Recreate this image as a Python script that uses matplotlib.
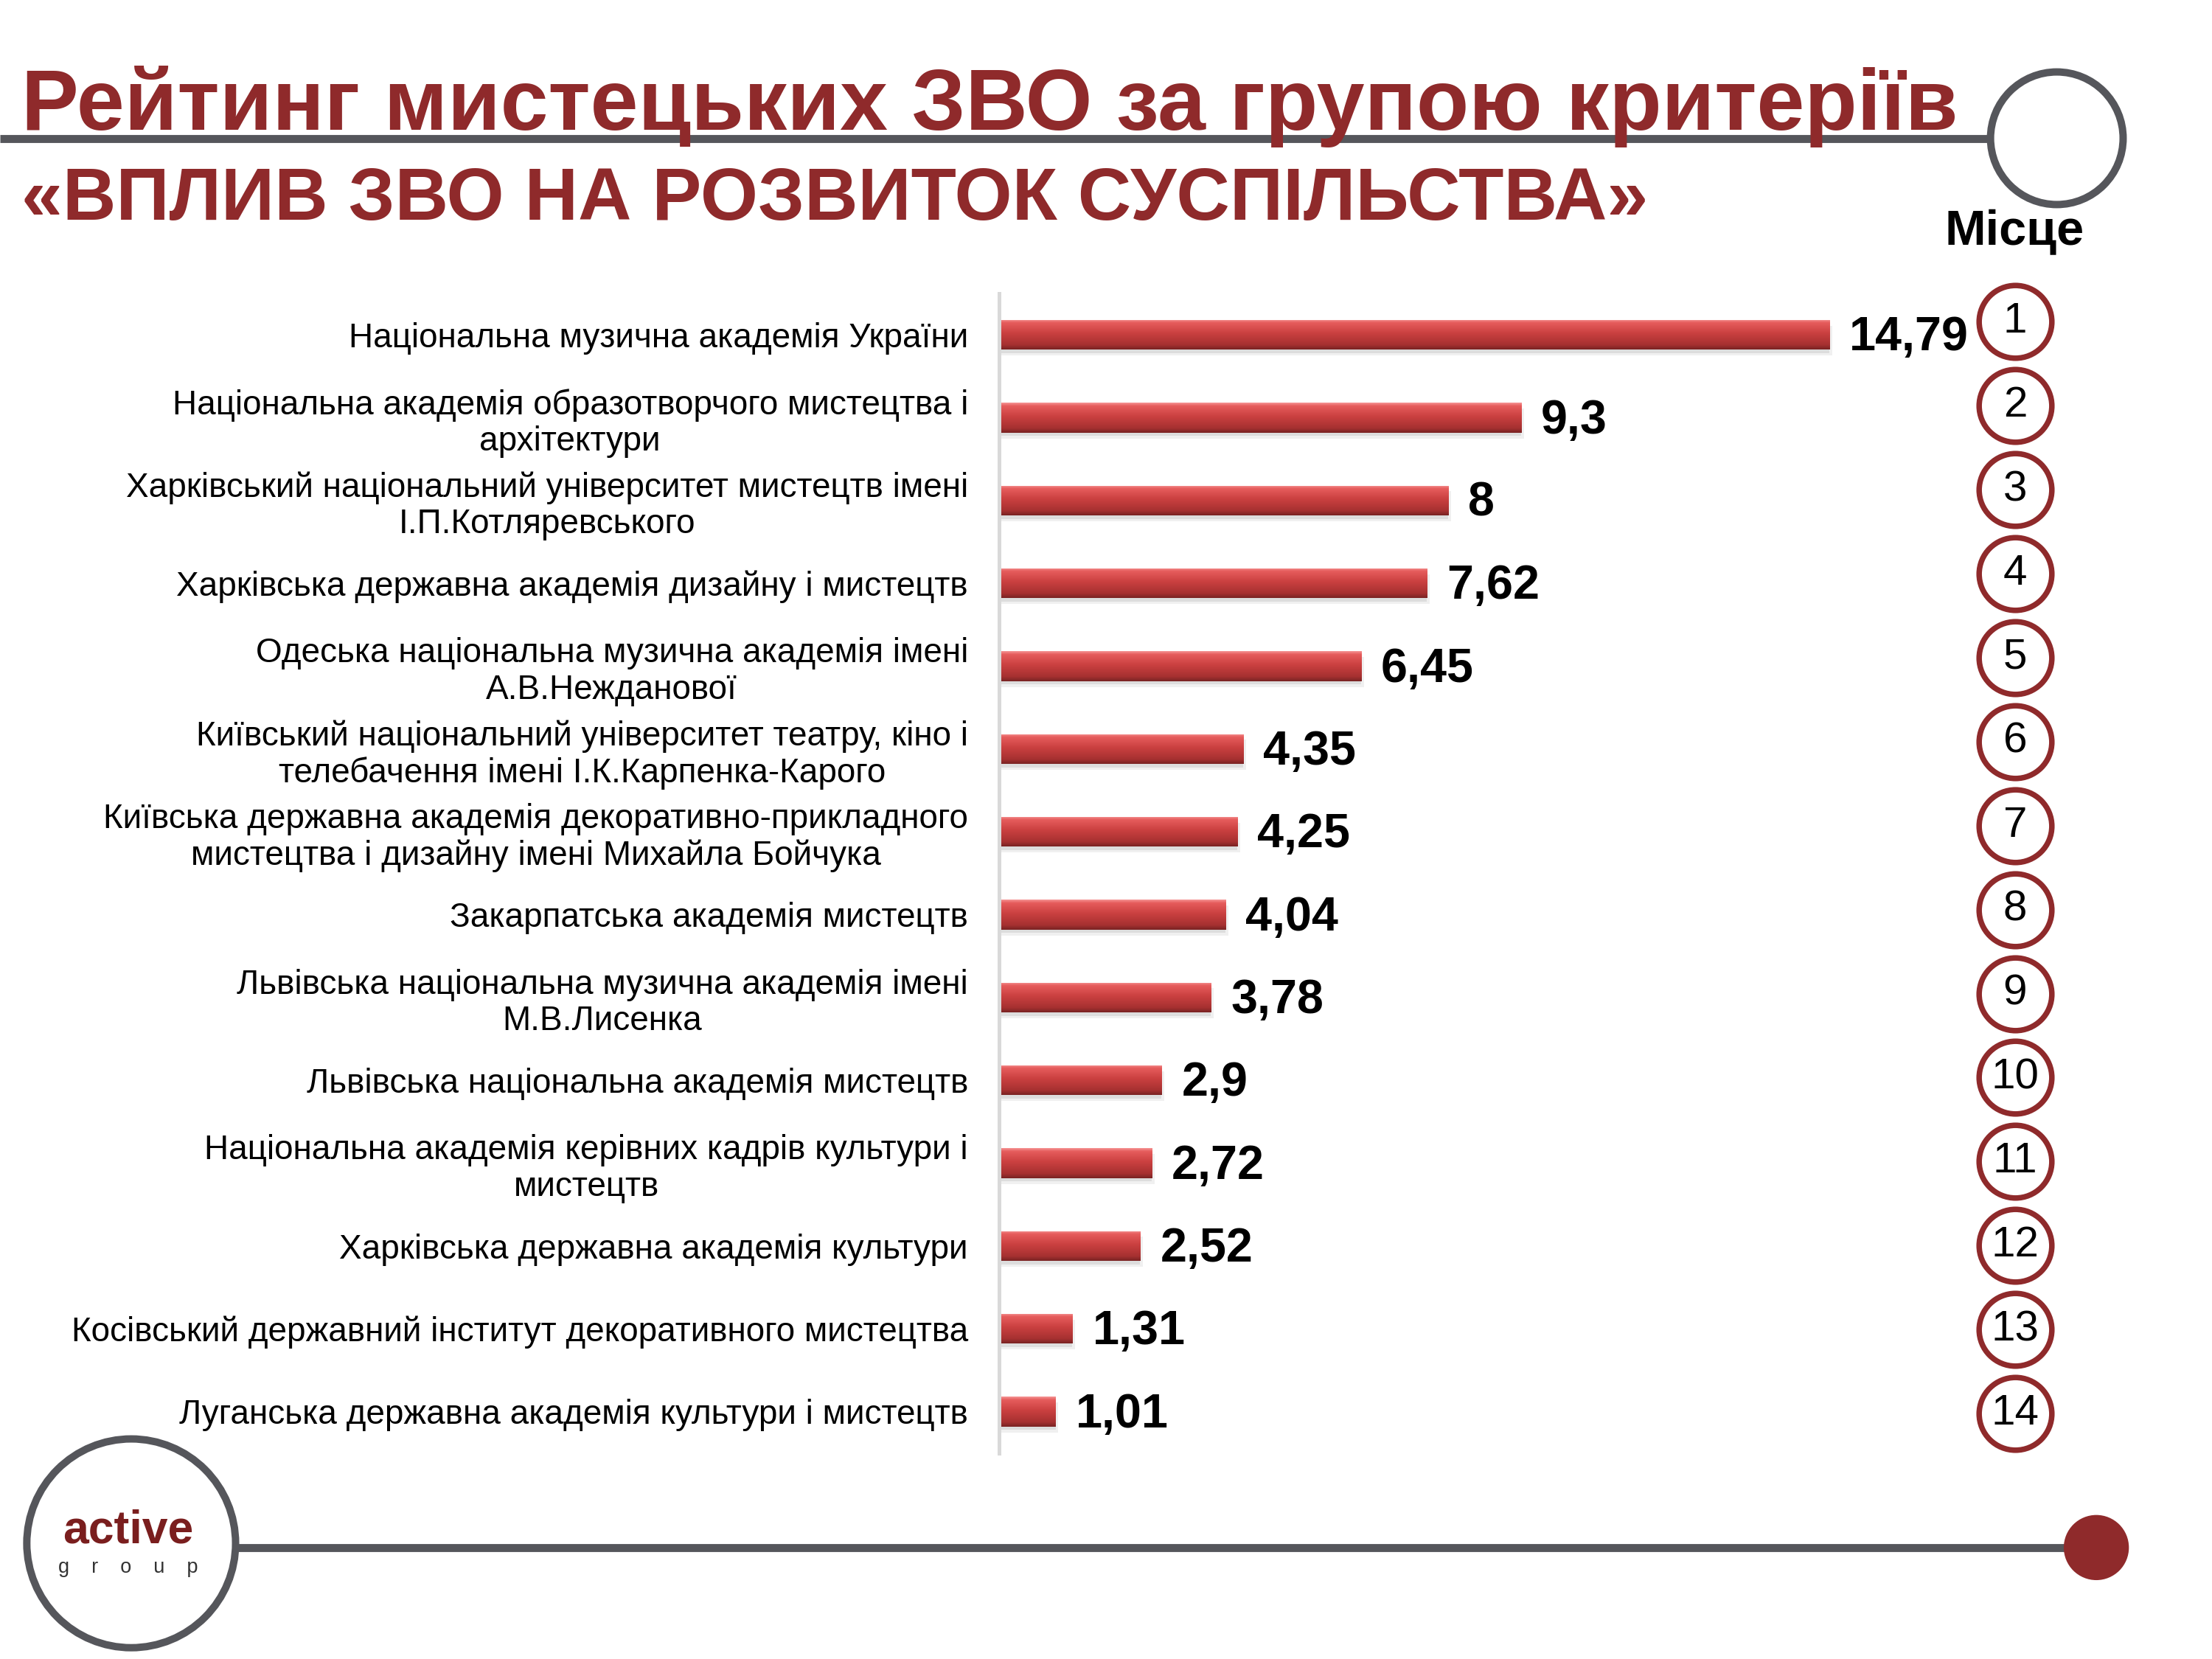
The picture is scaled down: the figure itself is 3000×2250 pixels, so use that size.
import matplotlib.pyplot as plt
import matplotlib.patches as mpatches
from matplotlib.colors import LinearSegmentedColormap
import numpy as np

plt.rcParams['font.family'] = ['Liberation Sans', 'DejaVu Sans']

# Data
universities = [
    "Національна музична академія України",
    "Національна академія образотворчого мистецтва і\nархітектури",
    "Харківський національний університет мистецтв імені\nІ.П.Котляревського",
    "Харківська державна академія дизайну і мистецтв",
    "Одеська національна музична академія імені\nА.В.Нежданової",
    "Київський національний університет театру, кіно і\nтелебачення імені І.К.Карпенка-Карого",
    "Київська державна академія декоративно-прикладного\nмистецтва і дизайну імені Михайла Бойчука",
    "Закарпатська академія мистецтв",
    "Львівська національна музична академія імені\nМ.В.Лисенка",
    "Львівська національна академія мистецтв",
    "Національна академія керівних кадрів культури і\nмистецтв",
    "Харківська державна академія культури",
    "Косівський державний інститут декоративного мистецтва",
    "Луганська державна академія культури і мистецтв",
]
scores = [14.79, 9.3, 8, 7.62, 6.45, 4.35, 4.25, 4.04, 3.78, 2.9, 2.72, 2.52, 1.31, 1.01]
ranks = list(range(1, 15))

title1 = "Рейтинг мистецьких ЗВО за групою критеріїв"
title2 = "«ВПЛИВ ЗВО НА РОЗВИТОК СУСПІЛЬСТВА»"

dark_red = "#8F2A2B"
gray = "#55565B"

fig = plt.figure(figsize=(10, 7.5), dpi=300)

# overlay in "reference pixel" units for the slide decorations
W, H = 1568, 1176
deco = fig.add_axes([0, 0, 1, 1], zorder=0)
deco.set_xlim(0, W)
deco.set_ylim(H, 0)
deco.axis("off")

# header line + hollow circle
deco.plot([0, 1411], [98, 98], color=gray, lw=2.6, solid_capstyle="butt")
deco.add_patch(mpatches.Circle((1458, 98), 47, fill=False, ec=gray, lw=2.4))
# footer line, logo circle and red dot
deco.plot([166, 1470], [1097, 1097], color=gray, lw=2.6, solid_capstyle="butt")
deco.add_patch(mpatches.Circle((93, 1094), 74, facecolor="white", ec=gray, lw=2.4, zorder=3))
deco.add_patch(mpatches.Circle((1486, 1097), 22, color=dark_red, zorder=3))
deco.text(91, 1085, "active", color="#7A1E1E", fontsize=15, fontweight="bold",
          ha="center", va="center", zorder=4)
deco.text(91, 1111, "g    r    o    u    p", color="#333333", fontsize=6.5,
          ha="center", va="center", zorder=4)

# titles
fig.text(15 / W, 1 - 92 / H, title1, color=dark_red, fontsize=28, fontweight="bold",
         ha="left", va="baseline")
fig.text(15 / W, 1 - 156 / H, title2, color=dark_red, fontsize=24.1, fontweight="bold",
         ha="left", va="baseline")
fig.text(1428 / W, 1 - 165 / H, "Місце", color="black", fontsize=16, fontweight="bold",
         ha="center", va="center")

# main bar axes
ax_left, ax_right = 708 / W, (708 + 20 * 39.8) / W
ax_bot, ax_top = 1 - 1030 / H, 1 - 208 / H
ax = fig.add_axes([ax_left, ax_bot, ax_right - ax_left, ax_top - ax_bot], zorder=2)
ax.patch.set_alpha(0)

y = np.arange(len(scores))
h = 0.36
# soft shadow
ax.barh(y + 0.07, scores, height=h, color="black", alpha=0.06, left=0.05)
ax.barh(y + 0.04, scores, height=h, color="black", alpha=0.08)
# body, filled with a vertical tube-like gradient
bars = ax.barh(y, scores, height=h, color="#B93536", edgecolor="none")
tube = LinearSegmentedColormap.from_list(
    "tube", [(0, "#F59393"), (0.1, "#E65D5D"), (0.45, "#CB4040"),
             (0.85, "#A63131"), (1, "#7A2323")])
grad = np.linspace(0, 1, 64).reshape(-1, 1)
for bar in bars:
    x0, yb, bw, bh = bar.get_x(), bar.get_y(), bar.get_width(), bar.get_height()
    im = ax.imshow(grad, cmap=tube, aspect="auto", origin="upper",
                   extent=[x0, x0 + bw, yb + bh, yb], zorder=bar.get_zorder() + 0.1)
    im.set_clip_path(bar)

for yi, v in zip(y, scores):
    ax.annotate(f"{v:g}".replace(".", ","), xy=(v, yi), xytext=(6.5, -1),
                textcoords="offset points", ha="left", va="center",
                fontsize=15.5, fontweight="bold", color="black")

ax.set_xlim(0, 20)
ax.set_ylim(len(scores) - 0.5, -0.5)
ax.set_yticks(y)
ax.set_yticklabels(universities, fontsize=11, linespacing=1.15)
for lbl in ax.get_yticklabels():
    lbl.set_multialignment("center")
ax.tick_params(axis="y", length=0, pad=10)
ax.set_xticks([])
for s in ["top", "right", "bottom"]:
    ax.spines[s].set_visible(False)
ax.spines["left"].set_color("#D9D9D9")
ax.spines["left"].set_linewidth(1.2)

# rank circles
rk_top, rk_bot = 228 - 29.8, 1002 + 29.8
rax = fig.add_axes([1390 / W, 1 - rk_bot / H, 80 / W, (rk_bot - rk_top) / H], zorder=2)
rax.set_xlim(0, 1)
rax.set_ylim(14.5, 0.5)
rax.axis("off")
rax.scatter([0.48] * len(ranks), ranks, s=560, facecolor="white", edgecolor=dark_red,
            linewidth=1.8)
for r in ranks:
    rax.text(0.48, r, str(r), ha="center", va="center", fontsize=14, color="black")

fig.savefig("out.png", dpi=300)
